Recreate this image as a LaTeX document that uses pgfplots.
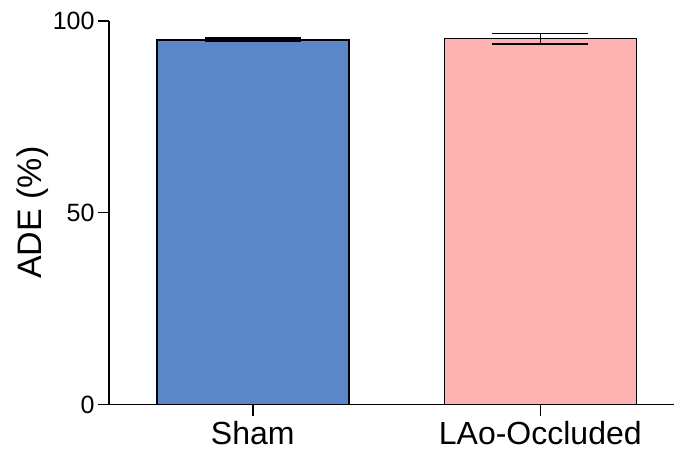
\documentclass[border=0pt]{standalone}
\usepackage{pgfplots}
\pgfplotsset{compat=1.18}
\usepackage{fontspec}
\setmainfont{Liberation Sans}
\definecolor{barblue}{RGB}{91,135,200}
\definecolor{barpink}{RGB}{255,178,178}
\begin{document}
\begin{tikzpicture}
\useasboundingbox (0,0) rectangle (674pt,450pt);
\begin{axis}[
  at={(109pt,45.5pt)}, anchor=south west,
  scale only axis, width=565pt, height=383.5pt,
  xmin=-0.5, xmax=1.465, ymin=0, ymax=100,
  axis x line=bottom, axis y line=left,
  axis line style={line width=1.5pt, -},
  xtick={0,1}, xticklabels={Sham,LAo-Occluded},
  ytick={0,50,100},
  tick align=outside, major tick length=11pt,
  every tick/.style={black, line width=1.5pt},
  tick label style={font=\fontsize{25}{30}\selectfont},
  xticklabel style={font=\fontsize{32}{38}\selectfont, yshift=-2pt},
  /pgf/number format/assume math mode=true,
  ylabel={ADE (\%)},
  every axis y label/.style={at={(axis description cs:0,0.5)}, xshift=-76pt, rotate=90, anchor=center, font=\fontsize{34}{40}\selectfont},
  ybar, bar width=192pt, bar shift=0pt,
  clip=false,
]
\addplot[fill=barblue, draw=black, line width=1.5pt,
  error bars/.cd, y dir=both, y explicit,
  error bar style={line width=2pt, black},
  error mark options={rotate=90, mark size=48pt, line width=2pt, black}]
  coordinates {(0,95.1) +- (0,0.4)};
\addplot[fill=barpink, draw=black, line width=1.5pt,
  error bars/.cd, y dir=both, y explicit,
  error bar style={line width=1.5pt, black},
  error mark options={rotate=90, mark size=48pt, line width=1.5pt, black}]
  coordinates {(1,95.4) +- (0,1.4)};
\end{axis}
\end{tikzpicture}
\end{document}
